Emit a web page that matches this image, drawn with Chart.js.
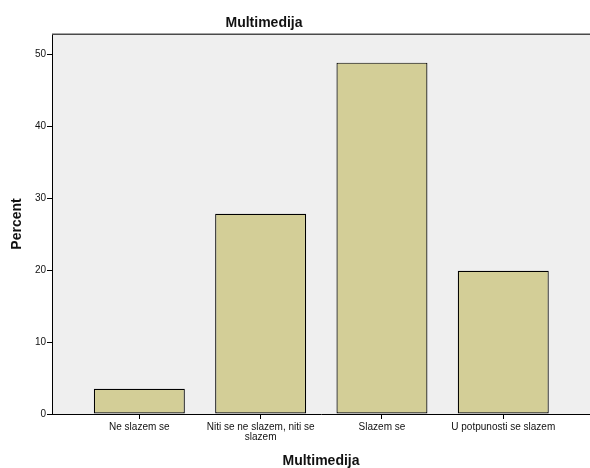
<!DOCTYPE html>
<html>
<head>
<meta charset="utf-8">
<script src="https://cdn.jsdelivr.net/npm/chart.js@4/dist/chart.umd.min.js"></script>
<style>
  html, body { margin: 0; padding: 0; background: #ffffff; }
  #wrap { width: 590px; height: 468px; position: relative; }
</style>
</head>
<body>
<div id="wrap"><canvas id="c"></canvas></div>
<script>
const chartTitle = "Multimedija";
const xAxisTitle = "Multimedija";
const yAxisTitle = "Percent";
const categories = ["Ne slazem se", "Niti se ne slazem, niti se slazem", "Slazem se", "U potpunosti se slazem"];
const percentValues = [3.5, 27.8, 48.8, 19.9];
const yTicks = [0, 10, 20, 30, 40, 50];

const FONT = "'Liberation Sans', Arial, Helvetica, sans-serif";

function wrapLabel(text, maxChars) {
  const words = text.split(" ");
  const lines = [];
  let cur = "";
  for (const w of words) {
    const next = cur ? cur + " " + w : w;
    if (next.length > maxChars && cur) { lines.push(cur); cur = w; }
    else cur = next;
  }
  if (cur) lines.push(cur);
  return lines.length === 1 ? lines[0] : lines;
}

const plotDecor = {
  id: "plotDecor",
  beforeDraw(chart) {
    const { ctx, chartArea: a } = chart;
    ctx.save();
    ctx.fillStyle = "#efefef";
    ctx.fillRect(a.left, a.top, a.right - a.left, a.bottom - a.top);
    ctx.restore();
  },
  afterDraw(chart) {
    const { ctx, chartArea: a } = chart;
    ctx.save();
    ctx.strokeStyle = "#4a4a4a";
    ctx.lineWidth = 1.5;
    ctx.beginPath();
    ctx.moveTo(a.left, a.top + 0.25);
    ctx.lineTo(a.right, a.top + 0.25);
    ctx.stroke();
    ctx.fillStyle = "#111";
    ctx.font = "bold 14px " + FONT;
    ctx.textAlign = "center";
    ctx.textBaseline = "middle";
    ctx.fillText(chartTitle, 264, 23);
    ctx.restore();
  }
};

new Chart(document.getElementById("c"), {
  type: "bar",
  data: {
    datasets: [{
      data: percentValues.map((v, i) => ({ x: i, y: v })),
      backgroundColor: "#d3ce97",
      borderColor: "#000000",
      borderWidth: 1.2,
      borderSkipped: false,
      barPercentage: 0.75,
      categoryPercentage: 1.0
    }]
  },
  options: {
    responsive: true,
    maintainAspectRatio: false,
    animation: false,
    layout: { padding: { top: 34, left: 0, right: 0, bottom: 0 } },
    plugins: { legend: { display: false }, tooltip: { enabled: false }, title: { display: false } },
    scales: {
      x: {
        type: "linear",
        offset: false,
        min: -0.72,
        max: 3.715,
        afterFit(s) { s.height = 54; },
        afterBuildTicks(s) { s.ticks = categories.map((_, i) => ({ value: i })); },
        grid: { offset: false, drawOnChartArea: false, drawTicks: true, tickLength: 5, color: "#000", lineWidth: 1 },
        border: { display: true, color: "#000", width: 1 },
        ticks: {
          autoSkip: false,
          maxRotation: 0,
          minRotation: 0,
          padding: 3,
          color: "#111",
          font: { family: FONT, size: 10, lineHeight: 1.0 },
          callback: (v) => wrapLabel(categories[v] || "", 26)
        },
        title: {
          display: true,
          text: xAxisTitle,
          color: "#111",
          font: { family: FONT, size: 14, weight: "bold", lineHeight: 1.0 },
          padding: { top: 0, bottom: 0 }
        }
      },
      y: {
        min: 0,
        max: 52.78,
        afterFit(s) { s.width = 52; },
        afterBuildTicks(s) { s.ticks = yTicks.map(v => ({ value: v })); },
        grid: { drawOnChartArea: false, drawTicks: true, tickLength: 5, color: "#000", lineWidth: 1 },
        border: { display: true, color: "#000", width: 1 },
        ticks: {
          padding: 1,
          color: "#111",
          font: { family: FONT, size: 10 },
          callback: (v) => String(v)
        },
        title: {
          display: true,
          text: yAxisTitle,
          color: "#111",
          font: { family: FONT, size: 14, weight: "bold", lineHeight: 1.0 },
          padding: { top: 10.5, bottom: 0 }
        }
      }
    }
  },
  plugins: [plotDecor]
});
</script>
</body>
</html>
